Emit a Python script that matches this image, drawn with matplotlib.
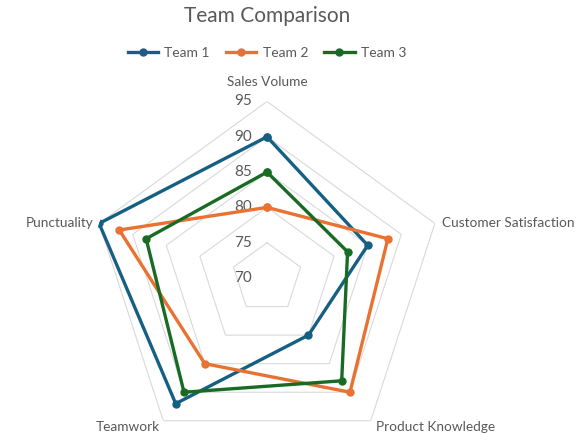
import numpy as np
import matplotlib
matplotlib.use("Agg")
import matplotlib.pyplot as plt

# Chart data
categories = ["Sales Volume", "Customer Satisfaction", "Product Knowledge", "Teamwork", "Punctuality"]
team1 = [90, 85, 80, 92, 95]
team2 = [80, 88, 90, 85, 92]
team3 = [85, 82, 88, 90, 88]
series_names = ["Team 1", "Team 2", "Team 3"]
r_ticks = [70, 75, 80, 85, 90, 95]

colors = ["#156082", "#E97132", "#196B24"]
text_color = "#595959"
grid_color = "#D9D9D9"

plt.rcParams['font.family'] = ['Lato', 'DejaVu Sans']

W, H = 585, 448
fig = plt.figure(figsize=(W / 100, H / 100), dpi=100)

# polar axes placed so that the center sits at (267, 278) px, radius 176.5 px
cx, cy, R = 267, 278, 176.5
ax = fig.add_axes([(cx - R) / W, (H - cy - R) / H, 2 * R / W, 2 * R / H], polar=True)
ax.set_theta_offset(np.pi / 2)
ax.set_theta_direction(-1)
ax.set_ylim(r_ticks[0], r_ticks[-1])
ax.spines['polar'].set_visible(False)
ax.grid(False)
ax.set_xticks([])
ax.set_yticks([])
ax.patch.set_alpha(0)

n = len(categories)
angles = np.linspace(0, 2 * np.pi, n, endpoint=False)
closed = np.append(angles, angles[0])

# pentagon gridlines
for lvl in r_ticks[1:]:
    ax.plot(closed, [lvl] * (n + 1), color=grid_color, lw=0.8, zorder=1)

# radial value labels
for lvl in r_ticks:
    ax.annotate(str(lvl), (0, lvl), xytext=(-15, 0), textcoords='offset pixels',
                ha='right', va='center', fontsize=11, color=text_color)

# category labels
label_offsets = [(0, 19, 'center'), (7, 0, 'left'), (5, -6, 'left'), (-3, -6, 'right'), (-6, 0, 'right')]
for ang, cat, (dx, dy, ha) in zip(angles, categories, label_offsets):
    ax.annotate(cat, (ang, r_ticks[-1]), xytext=(dx, dy), textcoords='offset pixels',
                ha=ha, va='center', fontsize=9.8, color=text_color, annotation_clip=False)

# series
for vals, name, col in zip([team1, team2, team3], series_names, colors):
    ax.plot(closed, vals + vals[:1], color=col, lw=2.4, marker='o', markersize=5,
            label=name, zorder=3, solid_joinstyle='miter')

fig.text(cx / W, 1 - 16 / H, "Team Comparison", ha='center', va='center',
         fontsize=15, color=text_color)

leg = fig.legend(loc='center', bbox_to_anchor=(cx / W, 1 - 53 / H), ncol=3, frameon=False,
                 fontsize=10, handlelength=2.2, handletextpad=0.45, columnspacing=1.15)
for t in leg.get_texts():
    t.set_color(text_color)

fig.savefig("out.png", dpi=100)
